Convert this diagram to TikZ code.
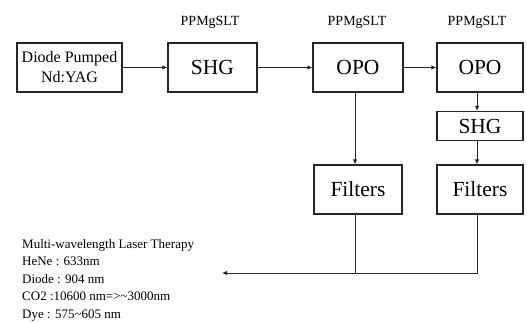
\documentclass[tikz,border=0pt]{standalone}
\usepackage{fontspec}
\setmainfont{Liberation Serif}
\usetikzlibrary{arrows.meta}
\tikzset{
  blk/.style={draw=black!85, line width=1.1pt, rectangle, inner sep=0pt, font=\fontsize{21.5}{24}\selectfont},
  conn/.style={draw=black!85, line width=0.9pt},
  arr/.style={conn, -{Latex[length=5pt,width=4.5pt]}},
  lbl/.style={anchor=base, inner sep=0pt, font=\fontsize{14}{16}\selectfont},
  info/.style={anchor=base west, inner sep=0pt, font=\fontsize{13}{15}\selectfont}
}
\begin{document}
\begin{tikzpicture}[x=1pt,y=-1pt]
\useasboundingbox (0,0) rectangle (527,322);
% boxes
\node[blk, minimum width=105pt, minimum height=49pt, align=center, font=\fontsize{16}{20}\selectfont] (diode) at (69.5,67.5) {Diode Pumped\\Nd:YAG};
\node[blk, minimum width=89pt, minimum height=49pt] (shg) at (212.5,67.5) {SHG};
\node[blk, minimum width=90pt, minimum height=49pt] (opo1) at (358,67.5) {OPO};
\node[blk, minimum width=86pt, minimum height=49pt] (opo2) at (480,67.5) {OPO};
\node[blk, minimum width=86pt, minimum height=29pt] (shg2) at (480,126) {SHG};
\node[blk, minimum width=88pt, minimum height=49pt] (fil1) at (358,189.5) {Filters};
\node[blk, minimum width=86pt, minimum height=49pt] (fil2) at (480,189.5) {Filters};
% crystal labels
\node[lbl] (p1) at (210,25) {PPMgSLT};
\node[lbl] (p2) at (357,25) {PPMgSLT};
\node[lbl] (p3) at (477,25) {PPMgSLT};
% horizontal arrows
\draw[arr] (diode.east) -- (shg.west);
\draw[arr] (shg.east) -- (opo1.west);
\draw[arr] (opo1.east) -- (opo2.west);
% vertical arrows
\draw[arr] ([xshift=-3pt]opo1.south) -- ([xshift=-3pt]fil1.north);
\draw[arr] ([xshift=-3pt]opo2.south) -- ([xshift=-3pt]shg2.north);
\draw[arr] ([xshift=-3pt]shg2.south) -- ([xshift=-3pt]fil2.north);
% output
\coordinate (outend) at (222,273);
\coordinate (join) at (355,273);
\draw[conn] ([xshift=-3pt]fil1.south) -- (join);
\draw[arr] ([xshift=-3pt]fil2.south) |- (outend);
% info text
\node[info] (t1) at (22,248) {Multi-wavelength Laser Therapy};
\node[info] (t2) at (22,265.5) {HeNe : 633nm};
\node[info] (t3) at (22,283) {Diode : 904 nm};
\node[info] (t4) at (22,300.5) {CO2 :10600 nm=>\textasciitilde3000nm};
\node[info] (t5) at (22,318) {Dye : 575\textasciitilde605 nm};
\end{tikzpicture}
\end{document}
